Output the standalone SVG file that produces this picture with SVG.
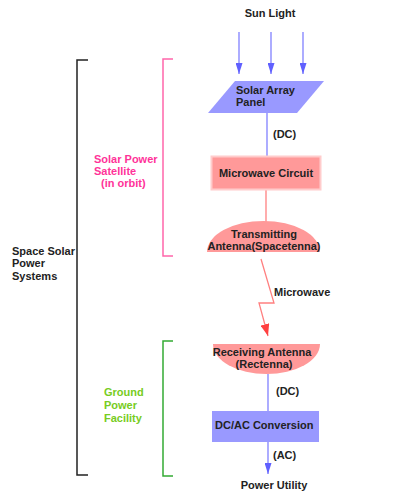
<svg xmlns="http://www.w3.org/2000/svg" width="402" height="497" viewBox="0 0 402 497">
<style>
text{font-family:"Liberation Sans",Arial,sans-serif;font-weight:bold;font-size:11px;fill:#222}
.pink{fill:#ff3399}
.green{fill:#77cc22}
.blue{stroke:#8080ff;stroke-width:1.3;fill:none}
.red{stroke:#ff8080;stroke-width:1.3;fill:none}
</style>
<defs>
<marker id="ab" markerWidth="11" markerHeight="7" refX="11" refY="3.5" orient="auto" markerUnits="userSpaceOnUse" viewBox="0 0 11 7">
<path d="M0,0 L11,3.5 L0,7 Z" fill="#6060ff"/>
</marker>
<marker id="ar" markerWidth="12" markerHeight="9" refX="12" refY="4.5" orient="auto" markerUnits="userSpaceOnUse" viewBox="0 0 12 9">
<path d="M0,0 L12,4.5 L0,9 Z" fill="#ff4040"/>
</marker>
</defs>
<rect width="402" height="497" fill="#fff"/>

<g id="brackets" fill="none" stroke-width="1.5">
<path d="M88,60 H77 V475 H88" stroke="#222"/>
<path d="M173,59 H163 V256 H173" stroke="#ff66aa"/>
<path d="M173,341 H163 V476 H173" stroke="#33aa33"/>
</g>

<g id="labels">
<text x="12" y="255">Space Solar</text>
<text x="12" y="267">Power</text>
<text x="12" y="280">Systems</text>
<text class="pink" x="94" y="163">Solar Power</text>
<text class="pink" x="94" y="175">Satellite</text>
<text class="pink" x="101" y="187">(in orbit)</text>
<text class="green" x="104" y="396">Ground</text>
<text class="green" x="104" y="409">Power</text>
<text class="green" x="104" y="422">Facility</text>
</g>

<g id="sunlight">
<text x="270" y="17" text-anchor="middle">Sun Light</text>
</g>

<g id="connectors">
<line class="blue" x1="239" y1="32" x2="239" y2="74" marker-end="url(#ab)"/>
<line class="blue" x1="271" y1="32" x2="271" y2="74" marker-end="url(#ab)"/>
<line class="blue" x1="303" y1="32" x2="303" y2="74" marker-end="url(#ab)"/>
<line class="blue" x1="267" y1="113" x2="267" y2="157"/>
<line class="red" x1="266" y1="189" x2="266" y2="222"/>
<polyline class="red" points="261,259 274,303 259,303 268,336" marker-end="url(#ar)"/>
<line class="blue" x1="268" y1="374" x2="268" y2="411"/>
<line class="blue" x1="268" y1="442" x2="268" y2="474" marker-end="url(#ab)"/>
<text x="273" y="138">(DC)</text>
<text x="274" y="296">Microwave</text>
<text x="276" y="395">(DC)</text>
<text x="273" y="459">(AC)</text>
</g>

<g id="solar-array">
<polygon points="235,81 324,81 297,113 208,113" fill="#9999ff"/>
<text x="236" y="94">Solar Array</text>
<text x="236" y="106">Panel</text>
</g>

<g id="microwave-circuit">
<rect x="211.5" y="156.5" width="109" height="33" fill="#ff9999" stroke="#ffcccc" stroke-width="2"/>
<text x="266" y="177" text-anchor="middle">Microwave Circuit</text>
</g>

<g id="transmitting-antenna">
<path d="M207,252 A56.5,31 0 0 1 320,252 Z" fill="#ff9999"/>
<text x="264" y="238" text-anchor="middle">Transmitting</text>
<text x="264" y="250" text-anchor="middle">Antenna(Spacetenna)</text>
</g>

<g id="receiving-antenna">
<path d="M213,344 H320 A53.5,30 0 0 1 213,344 Z" fill="#ff9999"/>
<text x="262" y="356" text-anchor="middle">Receiving Antenna</text>
<text x="264" y="368" text-anchor="middle">(Rectenna)</text>
</g>

<g id="dcac">
<rect x="212" y="411" width="107" height="31" fill="#9999ff"/>
<text x="215" y="429">DC/AC Conversion</text>
</g>

<g id="power-utility">
<text x="274" y="489" text-anchor="middle">Power Utility</text>
</g>
</svg>
